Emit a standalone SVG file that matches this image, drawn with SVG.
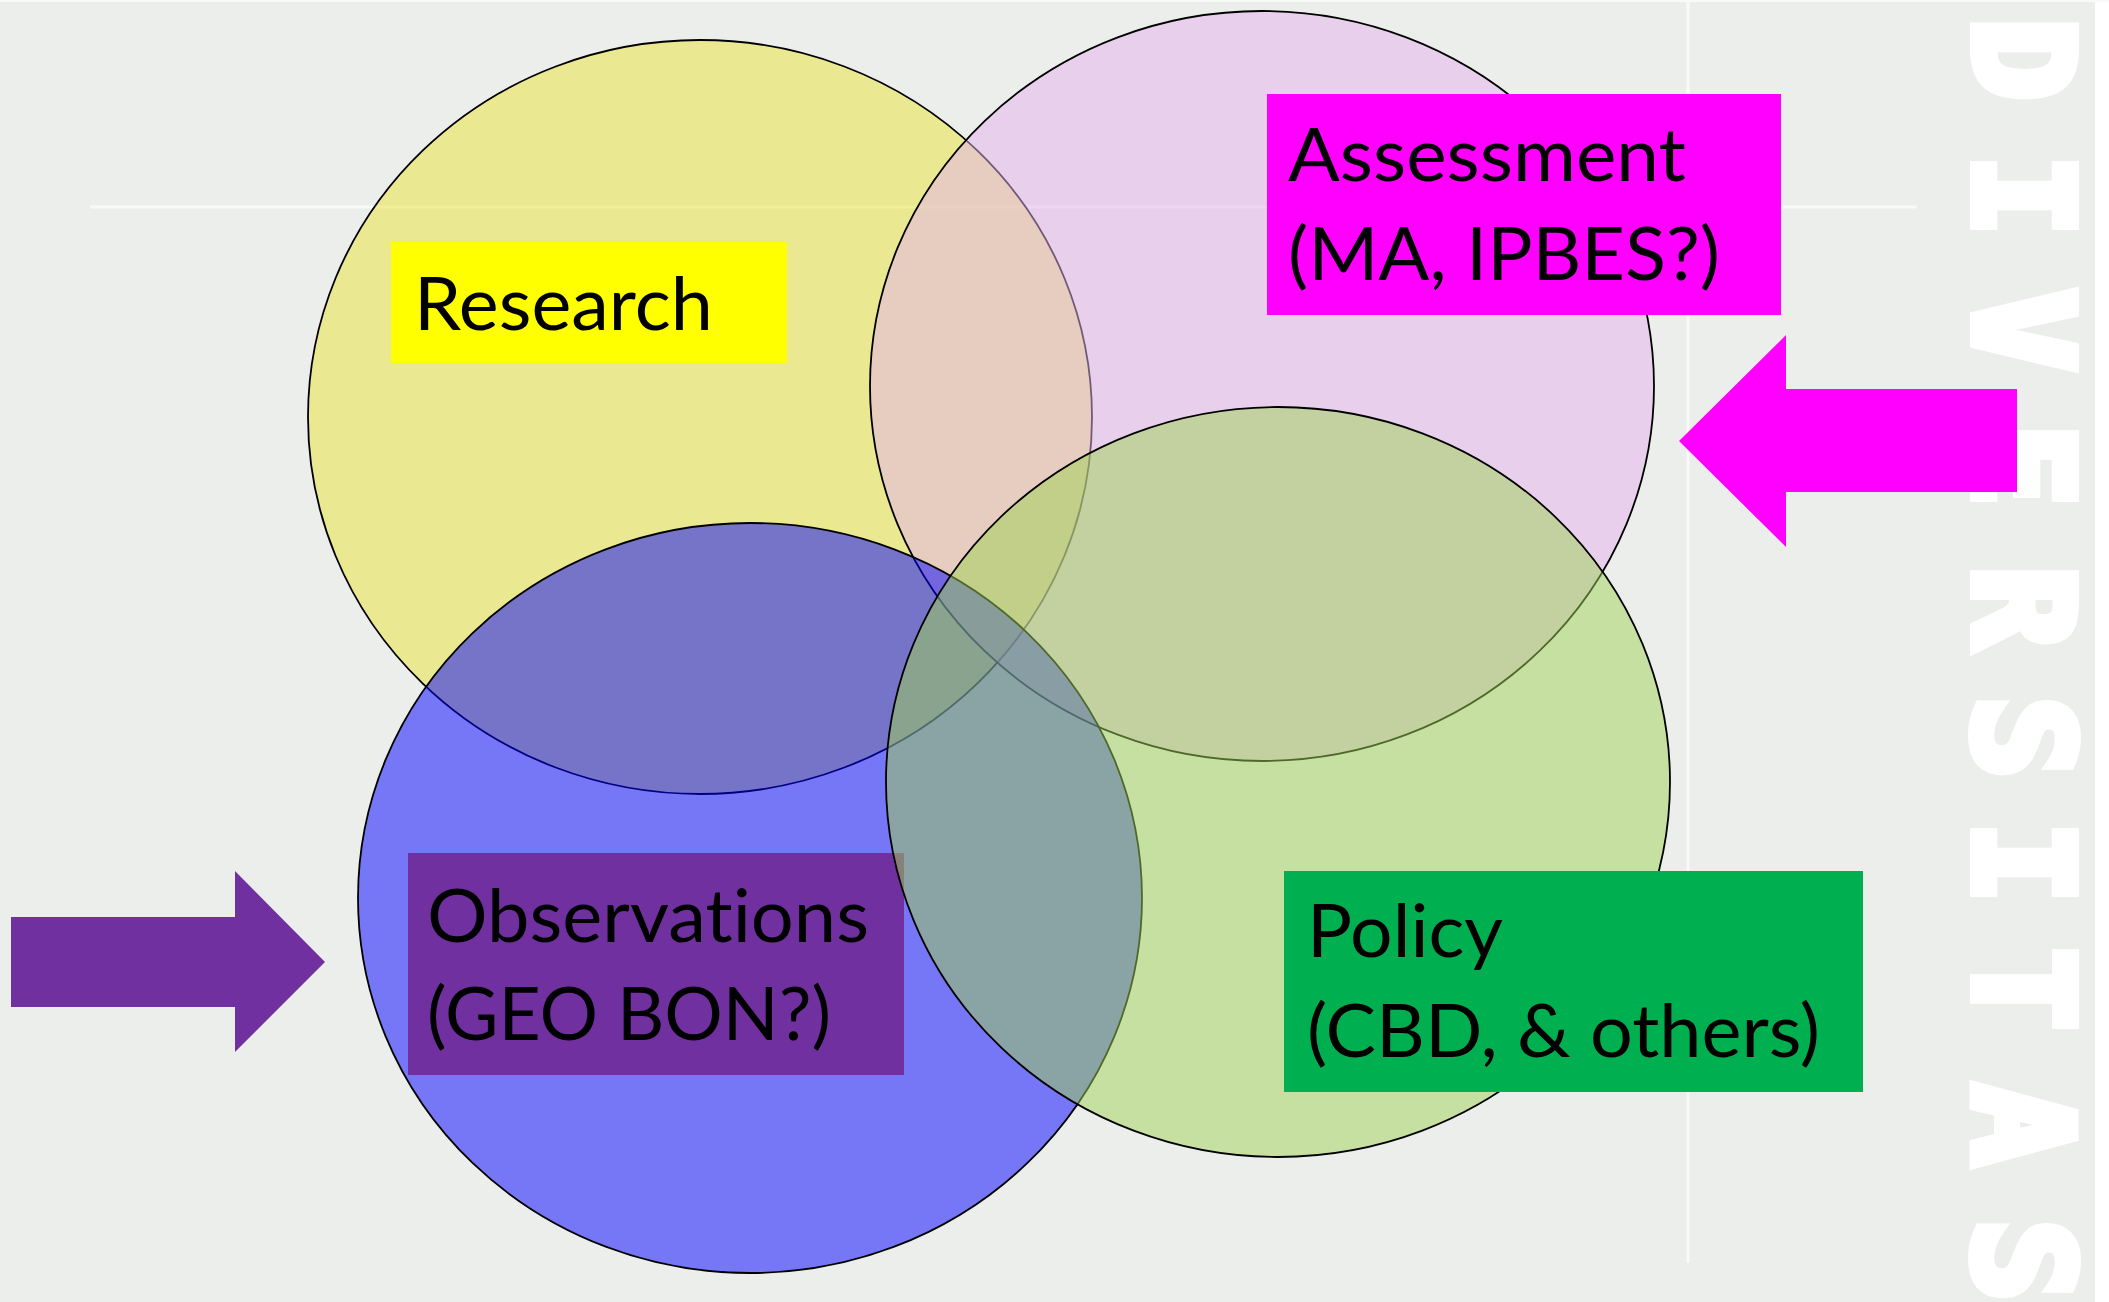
<svg xmlns="http://www.w3.org/2000/svg" width="2109" height="1302" viewBox="0 0 2109 1302">
  <style>
    .venn { stroke: #000000; stroke-width: 1.8; fill-opacity: 0.5; }
    .lbl { font-family: Lato, "Liberation Sans", sans-serif; font-size: 74px; fill: #000000; font-variant-ligatures: none; font-feature-settings: "liga" 0; }
    .wm { font-family: "DejaVu Sans Mono", "Liberation Mono", monospace; font-weight: bold; font-size: 136px; fill: #FFFFFF; stroke: #FFFFFF; stroke-width: 10; stroke-linejoin: miter; }
    .guide { stroke: #F8F9F8; stroke-width: 3; }
  </style>
  <!-- background -->
  <rect x="0" y="0" width="2109" height="1302" fill="#ECEEEC"/>
  <rect x="2095" y="0" width="14" height="1302" fill="#FFFFFF"/>
  <rect x="0" y="0" width="2109" height="2" fill="#F8F9F8"/>
  <line class="guide" x1="90" y1="207" x2="1917" y2="207"/>
  <line class="guide" x1="1688" y1="0" x2="1688" y2="1263"/>
  <text class="wm" transform="rotate(90)" y="-1975" x="59.5 195.5 330 465 607.5 737.5 862.5 989 1125 1260.5" text-anchor="middle">DIVERSITAS</text>

  <g id="research">
    <ellipse class="venn" cx="700" cy="417" rx="392" ry="377" fill="#E8E438"/>
    <rect x="391" y="242" width="396" height="121" fill="#FFFF00"/>
    <text class="lbl" x="414" y="330" textLength="299" lengthAdjust="spacingAndGlyphs">Research</text>
  </g>
  <g id="assessment">
    <ellipse class="venn" cx="1262" cy="386" rx="392" ry="375" fill="#E4B2EC"/>
    <rect x="1267" y="94" width="514" height="221" fill="#FF00FF"/>
    <text class="lbl" x="1288" y="181" textLength="398" lengthAdjust="spacingAndGlyphs">Assessment</text>
    <text class="lbl" x="1288" y="280" textLength="432" lengthAdjust="spacingAndGlyphs">(MA, IPBES?)</text>
  </g>
  <g id="observations">
    <ellipse class="venn" cx="750" cy="898" rx="392" ry="375" fill="#0000FF"/>
    <rect x="408" y="853" width="496" height="222" fill="#7030A0"/>
    <text class="lbl" x="427" y="942" textLength="442" lengthAdjust="spacingAndGlyphs">Observations</text>
    <text class="lbl" x="427" y="1040" textLength="404" lengthAdjust="spacingAndGlyphs">(GEO BON?)</text>
  </g>
  <g id="policy">
    <ellipse class="venn" cx="1278" cy="782" rx="392" ry="375" fill="#9ED254"/>
    <rect x="1284" y="871" width="579" height="221" fill="#00B050"/>
    <text class="lbl" x="1307" y="957" textLength="196" lengthAdjust="spacingAndGlyphs">Policy</text>
    <text class="lbl" x="1307" y="1057" textLength="513" lengthAdjust="spacingAndGlyphs">(CBD, &amp; others)</text>
  </g>

  <g id="connectors">
    <polygon id="arrow-observations" points="11,917 235,917 235,871 325,962 235,1052 235,1007 11,1007" fill="#7030A0"/>
    <polygon id="arrow-assessment" points="1679,441 1786,335 1786,389 2017,389 2017,492 1786,492 1786,547" fill="#FF00FF"/>
  </g>
</svg>
